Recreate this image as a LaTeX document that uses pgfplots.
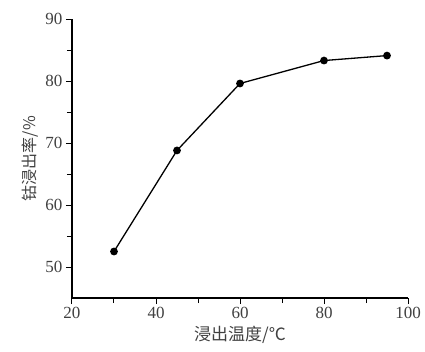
\documentclass[border=0pt]{standalone}
\usepackage{fontspec}
\setmainfont{Liberation Serif}
\newfontfamily\cjk{Noto Sans CJK SC}
\usepackage{pgfplots}
\pgfplotsset{compat=1.18}
\begin{document}
\begin{tikzpicture}
\begin{axis}[
  width=336pt, height=279pt, scale only axis,
  xmin=20, xmax=100, ymin=45, ymax=90,
  axis x line*=bottom, axis y line*=left,
  axis line style={line width=1.4pt},
  xtick={20,40,60,80,100}, ytick={50,60,70,80,90},
  minor xtick={30,50,70,90}, minor ytick={55,65,75,85},
  tick align=outside,
  major tick length=6pt, minor tick length=5pt,
  every tick/.style={black, line width=1pt},
  tick label style={font=\fontsize{17}{17}\selectfont, text=black!75},
  /pgf/number format/assume math mode=true,
  xlabel={\cjk 浸出温度/℃},
  ylabel={\cjk 钴浸出率/\%},
  xlabel style={font=\fontsize{17}{17}\selectfont, text=black!75, yshift=0pt},
  ylabel style={font=\fontsize{16}{16}\selectfont, text=black!75, yshift=0pt},
  clip=false,
]
\addplot[black, line width=1.3pt, mark=*, mark size=3.2pt] coordinates {
  (30,52.5) (45,68.8) (60,79.6) (80,83.3) (95,84.1)
};
\end{axis}
\pgfresetboundingbox
\path ([xshift=-72pt,yshift=-53pt]current axis.south west) rectangle ([xshift=17pt,yshift=19pt]current axis.north east);
\end{tikzpicture}
\end{document}
